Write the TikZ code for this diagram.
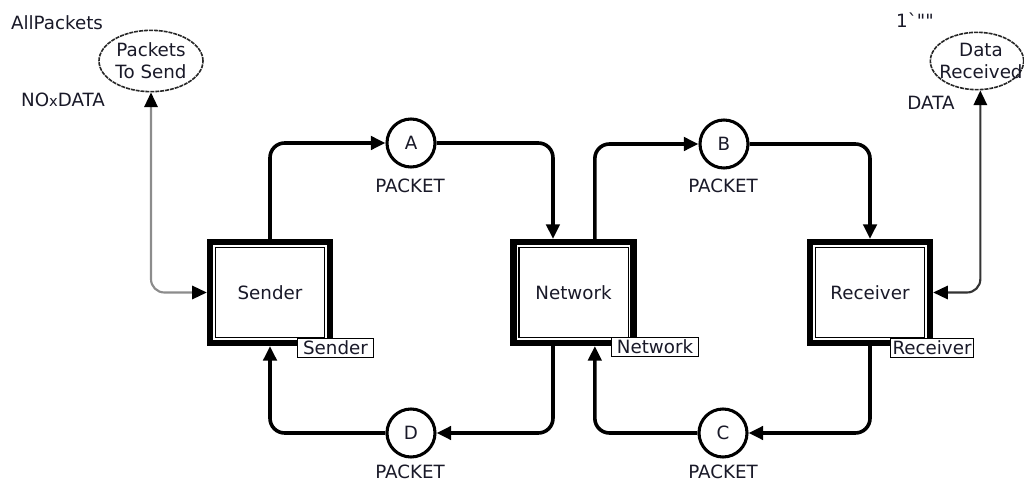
\documentclass[tikz,border=0pt]{standalone}
\usepackage{fontspec}
\setmainfont{DejaVu Sans}
\newfontfamily\plainfont{DejaVu Sans}[Ligatures=ResetAll]
\usetikzlibrary{arrows.meta,shapes.geometric,calc}
\definecolor{txt}{RGB}{25,25,40}
\tikzset{
  every node/.style={font=\fontsize{13.7pt}{16.5pt}\selectfont, text=txt},
  trans/.style={draw=black, line width=4.8pt, minimum width=90pt, minimum height=75.5pt, inner sep=0pt, fill=white},
  innerline/.style={draw=black, line width=1pt},
  tlabel/.style={draw=black, line width=0.9pt, fill=white, inner sep=1pt, minimum height=14pt, minimum width=57pt},
  place/.style={circle, draw=black, line width=2.3pt, minimum size=36pt, inner sep=0pt, fill=white},
  eplace/.style={ellipse, draw=black!85, line width=1.2pt, dash pattern=on 3pt off 0.7pt, inner sep=0pt},
  arc/.style={draw=black, line width=2.7pt, rounded corners=11pt, -{Triangle[length=11pt,width=10pt]}},
  garc/.style={line width=1.6pt, rounded corners=10pt, {Triangle[length=11pt,width=10pt,color=black]}-{Triangle[length=11pt,width=10pt,color=black]}},
}
\begin{document}
\begin{tikzpicture}[x=0.75pt,y=-0.75pt]
\useasboundingbox (0,0) rectangle (1024,484);

% transitions (substitution)
\node[trans] (sender) at (270,292.5) {};
\node[trans] (network) at (573.5,292.5) {};
\node[trans] (receiver) at (870,292.5) {};
\foreach \t in {sender,network,receiver}{
  \draw[innerline] ([shift={(6.4pt,-6.4pt)}]\t.north west) rectangle ([shift={(-6.4pt,6.4pt)}]\t.south east);
}
\node (senderT) at (sender.center) {Sender};
\node (networkT) at (network.center) {Network};
\node (receiverT) at (receiver.center) {Receiver};

% places
\node[place] (A) at (411,143) {A};
\node[place] (B) at (724,144) {B};
\node[place] (C) at (723,433) {C};
\node[place] (D) at (411,433) {D};
\node (Apk) at (410,186) {PACKET};
\node (Bpk) at (723,186) {PACKET};
\node (Cpk) at (723,472) {PACKET};
\node (Dpk) at (410,472) {PACKET};

% ellipse places
\node[eplace, minimum width=78pt, minimum height=46pt] (pts) at (151,61) {};
\node[align=center] (ptsT) at (151,61) {Packets\\To Send};
\node[eplace, minimum width=70pt, minimum height=43pt] (dr) at (977,61) {};
\node[align=center] (drT) at (981,61) {Data\\Received};
\node (allp) at (57,23) {AllPackets};
\node (noxd) at (63,100) {NO{\fontsize{11pt}{13pt}\selectfont x}DATA};
\node (init) at (915,20) {\plainfont 1\symbol{96}\symbol{34}\symbol{34}};
\node (datat) at (931,103) {DATA};

% coordinates for offset ports
\coordinate (nIn) at ([xshift=-15.4pt]network.north);
\coordinate (nOut) at ([xshift=16pt]network.north);
\coordinate (nbOut) at ([xshift=-15.4pt]network.south);
\coordinate (nbIn) at ([xshift=16pt]network.south);

% arcs
\draw[arc] (sender.north) |- (A);
\draw[arc] (A) -| (nIn);
\draw[arc] (nOut) |- (B);
\draw[arc] (B) -| (receiver.north);
\draw[arc] (receiver.south) |- (C);
\draw[arc] (C) -| (nbIn);
\draw[arc] (nbOut) |- (D);
\draw[arc] (D) -| (sender.south);

% double arcs
\draw[garc, draw=black!45] (sender.west) -| (pts.south);
\draw[garc, draw=black!80] (receiver.east) -| ([xshift=2.5pt]dr.south);

% transition labels on top
\node[tlabel] (sLab) at (335.5,348) {Sender};
\node[tlabel, minimum width=65pt] (nLab) at (655,347) {Network};
\node[tlabel, minimum width=62pt] (rLab) at (932,348) {Receiver};
\end{tikzpicture}
\end{document}
